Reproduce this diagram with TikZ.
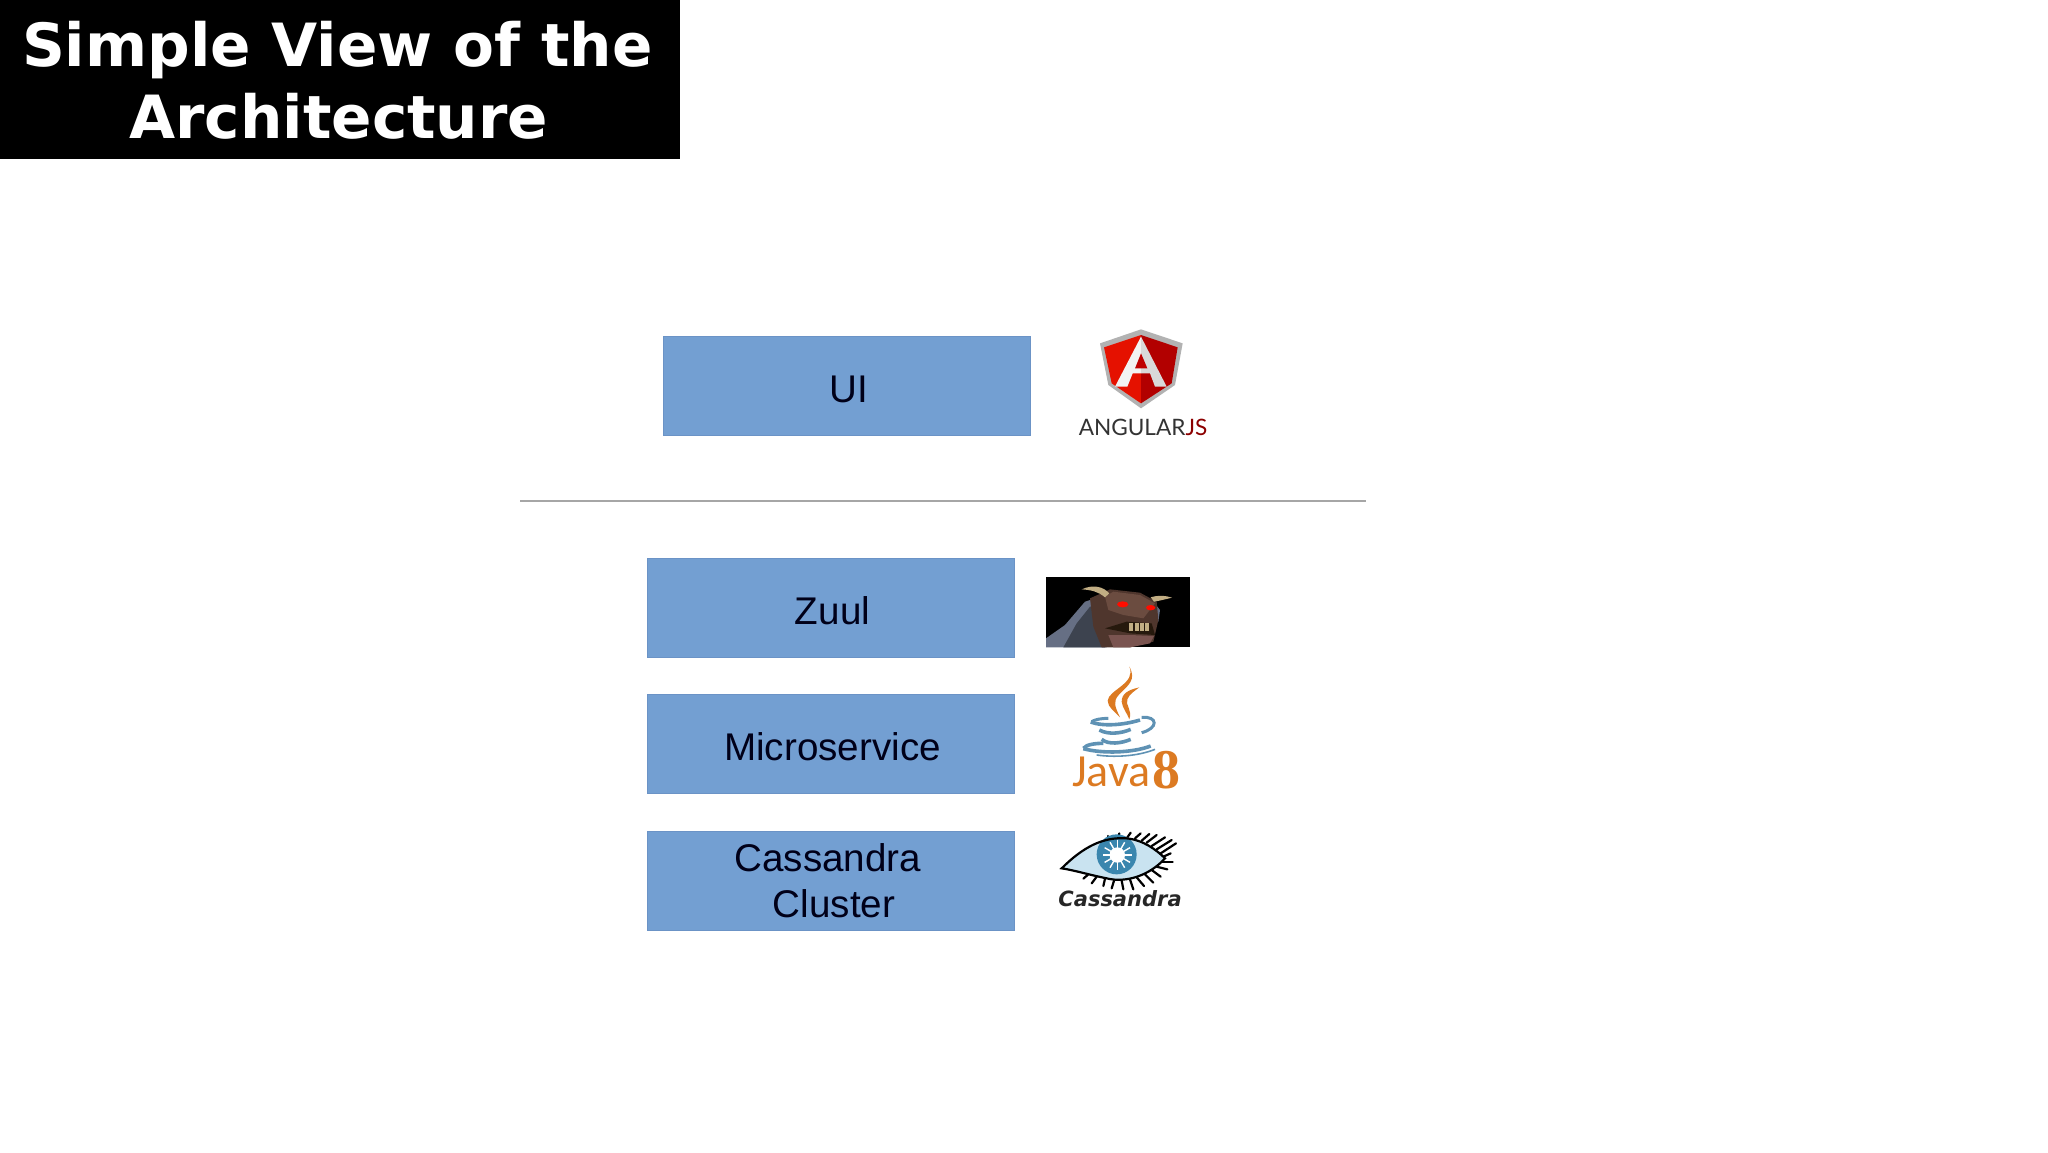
\documentclass[tikz,border=0pt]{standalone}
\usepackage{fontspec}
\setmainfont{Liberation Sans}
\newfontfamily\titlefont{DejaVu Sans}
\newfontfamily\angularfont{Lato}
\newfontfamily\javafont{Carlito}
\newfontfamily\eightfont{Liberation Serif}
\definecolor{boxblue}{HTML}{739FD2}
\definecolor{boxedge}{HTML}{6B93C6}
\definecolor{javaorange}{HTML}{DC7A22}
\definecolor{javablue}{HTML}{5F92B4}
\definecolor{eyeblue}{HTML}{C9E3F0}
\definecolor{irisblue}{HTML}{3A86AE}
\definecolor{zuulbody}{HTML}{666F84}
\definecolor{zuulhead}{HTML}{4F362D}
\definecolor{zuulbrow}{HTML}{6B4C40}
\definecolor{zuuljaw}{HTML}{7A5450}
\definecolor{zuulhorn}{HTML}{C2AE84}
\tikzset{
  archbox/.style={rectangle, draw=boxedge, fill=boxblue, minimum width=183.5pt, minimum height=49.5pt, inner sep=0pt, align=center, text=black!90!blue, font=\fontsize{19.3}{23}\selectfont, execute at begin node={\hspace*{1.5pt}\rule{0pt}{16.8pt}}},
  titlebox/.style={rectangle, fill=black, text=white, minimum width=339.75pt, minimum height=79.5pt, inner sep=0pt, align=center, font=\titlefont\bfseries\fontsize{29.8}{36}\selectfont},
  logotext/.style={inner sep=0pt, anchor=base west},
}
\begin{document}
\begin{tikzpicture}[x=0.5pt,y=-0.5pt]
\useasboundingbox (0,0) rectangle (2048,1152);
\node[titlebox] (title) at (339.75,79.5) {\hspace*{-2.5pt}\rule{0pt}{23.7pt}Simple View of the\\\hspace*{-1pt}Architecture};
\node[archbox] (ui) at (847,385.5) {UI};
\node[archbox] (zuul) at (831,607.5) {Zuul};
\node[archbox] (micro) at (831,744) {Microservice};
\node[archbox] (cass) at (831,880.5) {Cassandra\hspace*{4.6pt}\\\hspace*{1.5pt}Cluster};
\coordinate (lineL) at (520,500.5);
\coordinate (lineR) at (1366,500.5);
\draw[black!35, line width=1pt] (lineL) -- (lineR);
% angular logo
\begin{scope}[shift={(1030,310)},scale=1/3]
\fill[black!30] (333,58) -- (210,100) -- (235,225) -- (333,295) -- (435,225) -- (458,100) -- cycle;
\fill[red!85!orange!90!black] (333,75) -- (222,112) -- (245,220) -- (333,280) -- cycle;
\fill[red!70!black] (333,75) -- (443,112) -- (425,220) -- (333,280) -- cycle;
\fill[black!5] (333,80) -- (255,230) -- (292,230) -- (308,190) -- (333,190) -- cycle;
\fill[black!15] (333,80) -- (333,190) -- (360,190) -- (375,230) -- (410,230) -- cycle;
\fill[red!75!black] (333,130) -- (315,175) -- (352,175) -- cycle;
\node[logotext, font=\angularfont\fontsize{11.3}{12}\selectfont, text=black!80] (angularname) at (145,375) {ANGULAR\textcolor{red!55!black}{JS}};
\end{scope}
% zuul picture
\begin{scope}[shift={(1030,560)},scale=1/3]
\fill[black] (48,52) rectangle (481,262);
\fill[zuulbody] (48,262) -- (48,235) -- (105,195) -- (165,125) -- (210,110) -- (240,170) -- (230,262) -- cycle;
\fill[zuulbody!60!black] (100,262) -- (140,190) -- (180,140) -- (215,140) -- (225,262) -- cycle;
\fill[zuulbody] (370,125) -- (390,150) -- (385,185) -- (365,190) -- cycle;
\fill[zuulhead] (180,115) -- (240,88) -- (330,98) -- (380,125) -- (385,180) -- (370,245) -- (300,262) -- (215,262) -- (190,200) -- cycle;
\fill[zuulbrow] (225,110) -- (250,95) -- (330,105) -- (375,130) -- (340,175) -- (280,165) -- (235,150) -- cycle;
\fill[zuulhorn] (155,88) .. controls (190,72) and (220,80) .. (238,100) -- (225,112) .. controls (205,95) and (185,90) .. (155,88) -- cycle;
\fill[zuulhorn] (362,112) .. controls (385,105) and (405,106) .. (426,113) .. controls (405,118) and (390,122) .. (372,125) -- cycle;
\fill[black!80!brown] (225,205) -- (290,185) -- (365,190) -- (375,225) -- (300,220) -- cycle;
\foreach \tx in {298,314,330,346}
  \fill[zuulhorn] (\tx,190) rectangle ++(12,22);
\fill[zuuljaw] (235,225) -- (300,225) -- (372,228) -- (360,250) -- (300,262) -- (250,262) -- cycle;
\fill[red!90!orange] (278,133) ellipse [x radius=17, y radius=9];
\fill[red!90!orange] (362,143) ellipse [x radius=14, y radius=8];
\end{scope}
% java logo
\begin{scope}[shift={(1040,660)},scale=1/3]
\fill[javaorange] (268,20) .. controls (290,70) and (205,90) .. (203,122) .. controls (203,142) and (225,155) .. (240,172) .. controls (225,140) and (218,125) .. (236,105) .. controls (265,75) and (290,60) .. (268,20) -- cycle;
\fill[javaorange] (298,82) .. controls (262,90) and (245,102) .. (245,125) .. controls (247,145) and (262,160) .. (268,178) .. controls (278,150) and (255,135) .. (262,118) .. controls (268,102) and (285,92) .. (298,82) -- cycle;
\draw[javablue, line width=1.8pt] (152,186) .. controls (190,200) and (250,195) .. (300,180);
\draw[javablue, line width=1.5pt] (155,185) .. controls (165,178) and (185,175) .. (205,175);
\draw[javablue, line width=1.5pt] (305,172) .. controls (355,168) and (355,205) .. (305,218);
\draw[javablue, line width=1.8pt] (178,210) .. controls (205,225) and (245,220) .. (272,208);
\draw[javablue, line width=1.8pt] (185,238) .. controls (205,255) and (245,250) .. (272,238);
\draw[javablue, line width=1.8pt] (130,265) .. controls (140,252) and (170,250) .. (190,250);
\draw[javablue, line width=1.8pt] (130,266) .. controls (190,282) and (280,278) .. (332,258);
\draw[javablue, line width=0.8pt] (170,285) .. controls (220,292) and (290,290) .. (345,268);
\node[logotext, font=\javafont\fontsize{23}{24}\selectfont, text=javaorange] (javaname) at (95,378) {Java};
\node[logotext, font=\eightfont\bfseries\fontsize{28}{30}\selectfont, text=javaorange] (javanum) at (335,384) {8};
\end{scope}
% cassandra logo
\begin{scope}[shift={(1040,820)},scale=1/3]
\foreach \xa/\ya/\xb/\yb in {205/58/205/48, 235/52/238/40, 262/52/272/38, 285/55/302/40, 305/62/328/42, 320/68/350/45, 335/78/375/52, 350/88/395/60, 362/100/408/70, 370/110/392/100, 365/125/398/125, 350/140/382/148, 335/150/362/170, 315/163/340/188, 290/172/312/198, 270/178/280/208, 245/182/250/208, 222/182/215/205, 195/176/190/198, 170/170/155/190, 145/163/130/176}
  \draw[black, line width=1.1pt, line cap=round] (\xa,\ya) -- (\xb,\yb);
\fill[eyeblue] (65,145) .. controls (130,80) and (190,50) .. (260,55) .. controls (310,60) and (350,90) .. (375,115) .. controls (330,165) and (260,190) .. (200,175) .. controls (150,165) and (100,150) .. (65,145) -- cycle;
\fill[irisblue] (230,103) circle (60);
\fill[white] (232,105) circle (23);
\foreach \ang in {0,30,...,330}
  \draw[white, line width=0.7pt] (232,105) -- ++(\ang:44);
\draw[black, line width=1.1pt] (65,145) .. controls (130,80) and (190,50) .. (260,55) .. controls (310,60) and (350,90) .. (375,115) .. controls (330,165) and (260,190) .. (200,175) .. controls (150,165) and (100,150) .. (65,145) -- cycle;
\node[logotext, font=\titlefont\bfseries\itshape\fontsize{10.5}{12}\selectfont, text=black!85] (cassname) at (54,258) {Cassandra};
\end{scope}
\end{tikzpicture}
\end{document}
